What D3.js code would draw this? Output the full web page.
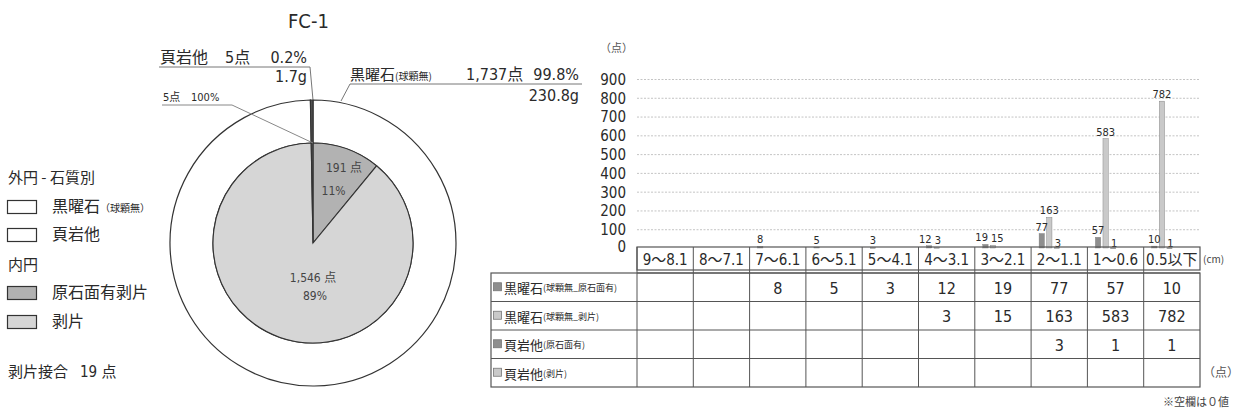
<!DOCTYPE html>
<html><head><meta charset="utf-8">
<script src="https://cdn.jsdelivr.net/npm/d3@7"></script>
<style>body{margin:0;background:#fff}svg{display:block}</style>
</head><body><svg id="c" width="1239" height="414"></svg>
<script>
// ---- data ----
const categories = ["9～8.1","8～7.1","7～6.1","6～5.1","5～4.1","4～3.1","3～2.1","2～1.1","1～0.6","0.5以下"];
const obsCortex   = [0,0,8,5,3,12,19,77,57,10];
const obsFlake    = [0,0,0,0,0,3,15,163,583,782];
const shaleCortex = [0,0,0,0,0,0,0,3,1,1];
const shaleFlake  = [0,0,0,0,0,0,0,0,0,0];
const yTicks = [0,100,200,300,400,500,600,700,800,900];
const rowNames = [["黒曜石","(球顆無_原石面有)"],["黒曜石","(球顆無_剥片)"],["頁岩他","(原石面有)"],["頁岩他","(剥片)"]];
const outerNames = ["黒曜石","頁岩他"];
const outerCounts = [1737, 5];
const outerPct = ["99.8%","0.2%"];
const outerWeights = ["230.8g","1.7g"];
const innerCounts = [191, 1546, 5];
const innerPct = ["11%","89%","100%"];
const refits = 19;

// ---- setup ----
const svg = d3.select("#c");
svg.append("rect").attr("width",1239).attr("height",414).attr("fill","#fff");
const JP = "'Noto Sans CJK JP', sans-serif";
const NUM = "'DejaVu Sans Condensed','Liberation Sans','Noto Sans CJK JP', sans-serif";
const INK = "#2a2a2a";
const LIGHT = "#d6d6d6";
const fmt = d3.format(",");
function num(sel){ return sel.attr("font-family",NUM).attr("font-stretch","condensed"); }

// title
num(svg.append("text").attr("x",288).attr("y",28)).attr("font-size",20).attr("fill",INK).text("FC-1");

// ---- pie ----
const cx = 313, cy = 243, rO = 143, rI = 100;
const pie = d3.pie().sort(null).value(d=>d);
const gp = svg.append("g").attr("transform",`translate(${cx},${cy})`);
const arcO = d3.arc().innerRadius(rI).outerRadius(rO);
gp.selectAll("path.o").data(pie(outerCounts)).join("path").attr("class","o")
  .attr("d",arcO).attr("fill",(d,i)=>i===0?"#fff":"#555").attr("stroke","#333").attr("stroke-width",1.2);
const arcI = d3.arc().innerRadius(0).outerRadius(rI);
const innerArcs = pie(innerCounts);
gp.selectAll("path.i").data(innerArcs).join("path").attr("class","i")
  .attr("d",arcI).attr("fill",(d,i)=>i===1?LIGHT:(i===0?"#b2b2b2":"#555")).attr("stroke","#333").attr("stroke-width",1.1);
// inner labels
const a0 = innerArcs[0];
const arcL1 = d3.arc().innerRadius(80).outerRadius(80);
const arcL2 = d3.arc().innerRadius(55).outerRadius(55);
let p = arcL1.centroid(a0);
num(gp.append("text").attr("x",p[0]+4).attr("y",p[1]).attr("text-anchor","middle").attr("dominant-baseline","central"))
  .attr("font-size",12).attr("fill","#444").text(`${innerCounts[0]} 点`);
p = arcL2.centroid(a0);
num(gp.append("text").attr("x",p[0]+2).attr("y",p[1]).attr("text-anchor","middle").attr("dominant-baseline","central"))
  .attr("font-size",12).attr("fill","#444").text(innerPct[0]);
num(gp.append("text").attr("x",0).attr("y",35).attr("text-anchor","middle").attr("dominant-baseline","central"))
  .attr("font-size",12).attr("fill","#444").text(`${fmt(innerCounts[1])} 点`);
num(gp.append("text").attr("x",2).attr("y",53).attr("text-anchor","middle").attr("dominant-baseline","central"))
  .attr("font-size",12).attr("fill","#444").text(innerPct[1]);

// outer labels (shale)
const lbl = svg.append("g").attr("fill",INK);
lbl.append("text").attr("x",160).attr("y",63).attr("font-family",JP).attr("font-size",16).text(outerNames[1]);
num(lbl.append("text").attr("x",225).attr("y",63)).attr("font-size",16).text(`${outerCounts[1]}点`);
num(lbl.append("text").attr("x",307).attr("y",63).attr("text-anchor","end")).attr("font-size",16).text(outerPct[1]);
num(lbl.append("text").attr("x",307).attr("y",82).attr("text-anchor","end")).attr("font-size",16).text(outerWeights[1]);
svg.append("polyline").attr("points","159,67 310,67 313,100").attr("fill","none").attr("stroke","#777").attr("stroke-width",1);
// inner shale label
num(lbl.append("text").attr("x",163).attr("y",101)).attr("font-size",11).text(`${innerCounts[2]}点`);
num(lbl.append("text").attr("x",191).attr("y",101)).attr("font-size",11).text(innerPct[2]);
svg.append("polyline").attr("points","162,105 232,105 313,143").attr("fill","none").attr("stroke","#888").attr("stroke-width",1);
// obsidian label
const ot = lbl.append("text").attr("x",350).attr("y",80).attr("font-family",JP).attr("font-size",15);
ot.append("tspan").text(outerNames[0]);
ot.append("tspan").attr("font-size",10).text("(球顆無)");
num(lbl.append("text").attr("x",466).attr("y",80)).attr("font-size",16).text(`${fmt(outerCounts[0])}点`);
num(lbl.append("text").attr("x",579).attr("y",80).attr("text-anchor","end")).attr("font-size",16).text(outerPct[0]);
num(lbl.append("text").attr("x",579).attr("y",101).attr("text-anchor","end")).attr("font-size",16).text(outerWeights[0]);
svg.append("polyline").attr("points","341,101 350,84 582,84").attr("fill","none").attr("stroke","#777").attr("stroke-width",1);

// legend
const lg = svg.append("g").attr("fill",INK).attr("font-family",JP);
lg.append("text").attr("x",8).attr("y",183).attr("font-size",15).text("外円 - 石質別");
const legItems = [
  {y:200, fill:"#fff", t:outerNames[0], s:"（球顆無）"},
  {y:228, fill:"#fff", t:outerNames[1], s:""},
  {y:286, fill:"#b2b2b2", t:"原石面有剥片", s:""},
  {y:315, fill:LIGHT, t:"剥片", s:""}
];
legItems.forEach(d=>{
  lg.append("rect").attr("x",7.5).attr("y",d.y+0.5).attr("width",29).attr("height",13).attr("fill",d.fill).attr("stroke","#333").attr("stroke-width",1.2);
  const t = lg.append("text").attr("x",52).attr("y",d.y+12).attr("font-size",16);
  t.append("tspan").text(d.t);
  if(d.s) t.append("tspan").attr("font-size",10).text(d.s);
});
lg.append("text").attr("x",8).attr("y",270).attr("font-size",15).text("内円");
const rf = lg.append("text").attr("x",8).attr("y",377).attr("font-size",15);
rf.append("tspan").text("剥片接合");
num(rf.append("tspan").attr("x",80)).attr("font-size",15).text(`${refits} `);
rf.append("tspan").attr("font-size",15).text("点");

// ---- bar chart ----
const x0 = d3.scaleBand().domain(categories).range([637,1200]);
const seriesKeys = ["oc","of","sc","sf"];
const seriesVals = {oc:obsCortex, of:obsFlake, sc:shaleCortex, sf:shaleFlake};
const seriesFill = {oc:"#8e8e8e", of:"#c9c9c9", sc:"#8e8e8e", sf:"#c9c9c9"};
const x1 = d3.scaleBand().domain(seriesKeys).range([8,36]).paddingInner(0.3);
const y = d3.scaleLinear().domain([0,900]).range([248,79]);

// gridlines
svg.append("g").selectAll("line").data(yTicks.filter(v=>v>0)).join("line")
  .attr("x1",637).attr("x2",1200).attr("y1",d=>y(d)+0.5).attr("y2",d=>y(d)+0.5)
  .attr("stroke","#c4c4c4").attr("stroke-width",1).attr("stroke-dasharray","2,1.5");

// y axis
const ax = svg.append("g").attr("transform","translate(626,0)")
  .call(d3.axisLeft(y).tickValues(yTicks).tickSize(0).tickPadding(0));
ax.select(".domain").remove();
num(ax.selectAll("text")).attr("font-size",15).attr("fill",INK)
  .attr("dy",(d)=>d===0?"0.2em":"0.36em");
svg.append("text").attr("x",600).attr("y",52).attr("font-family",JP).attr("font-size",11).attr("fill","#555").text("（点）");

// bars
const bg = svg.append("g");
const flat = [];
categories.forEach((c,i)=>seriesKeys.forEach(k=>flat.push({c, i, k, v:seriesVals[k][i]})));
const nz = flat.filter(d=>d.v>0);
bg.selectAll("rect").data(nz).join("rect")
  .attr("x",d=>x0(d.c)+x1(d.k)).attr("width",x1.bandwidth())
  .attr("y",d=>y(d.v)).attr("height",d=>Math.max(0.8,y(0)-y(d.v)))
  .attr("fill",d=>seriesFill[d.k]).attr("stroke","#777").attr("stroke-width",0.4);
// labels: push apart neighbours of similar height
function crowded(d){
  if(d.k!=="oc" && d.k!=="of") return false;
  const o = d.k==="oc" ? obsFlake[d.i] : obsCortex[d.i];
  return o>0 && Math.abs(y(o)-y(d.v))<12;
}
num(bg.selectAll("text").data(nz).join("text")
  .attr("x",d=>{
    const c = x0(d.c)+x1(d.k)+x1.bandwidth()/2;
    if(crowded(d)) return d.k==="oc" ? c+2.5 : c-2;
    return c+(d.k==="sc"?1:0);
  })
  .attr("y",d=>d.k==="sc"?y(0)-1:y(d.v)-3)
  .attr("text-anchor",d=>crowded(d)?(d.k==="oc"?"end":"start"):"middle"))
  .attr("font-size",11).attr("fill",INK)
  .text(d=>d.v);

// ---- table ----
const tg = svg.append("g").attr("stroke","#555").attr("fill","none");
const tTop = 247, hBot = 270, rTop = 273, rH = 28.5, nRows = 4;
const tBot = rTop + rH*nRows;
tg.append("rect").attr("x",637).attr("y",tTop).attr("width",563).attr("height",hBot-tTop).attr("stroke-width",1.2);
tg.append("line").attr("x1",637).attr("x2",1200).attr("y1",rTop).attr("y2",rTop);
tg.append("rect").attr("x",491).attr("y",rTop).attr("width",1200-491).attr("height",tBot-rTop).attr("stroke-width",1.2);
d3.range(1,nRows).forEach(r=>tg.append("line").attr("x1",491).attr("x2",1200).attr("y1",rTop+r*rH).attr("y2",rTop+r*rH));
categories.forEach(c=>{
  tg.append("line").attr("x1",x0(c)).attr("x2",x0(c)).attr("y1",tTop).attr("y2",tBot);
});
num(svg.append("g").selectAll("text").data(categories).join("text")
  .attr("x",d=>x0(d)+x0.bandwidth()/2).attr("y",(tTop+hBot)/2+1)
  .attr("text-anchor","middle").attr("dominant-baseline","central"))
  .attr("font-size",15).attr("fill",INK).text(d=>d);
svg.append("text").attr("x",1203).attr("y",263).attr("font-family",JP).attr("font-size",10).attr("fill","#444").text("(cm)");
rowNames.forEach((rn,r)=>{
  const yc = rTop + r*rH + rH/2;
  svg.append("rect").attr("x",493.5).attr("y",yc-4.5).attr("width",8).attr("height",8)
    .attr("fill",seriesFill[seriesKeys[r]]).attr("stroke","#777").attr("stroke-width",0.8);
  const t = svg.append("text").attr("x",504).attr("y",yc).attr("dominant-baseline","central")
    .attr("font-family",JP).attr("fill",INK);
  t.append("tspan").attr("font-size",13).text(rn[0]);
  t.append("tspan").attr("font-size",9).text(rn[1]);
  num(svg.append("g").selectAll("text").data(categories.map((c,i)=>({c,v:seriesVals[seriesKeys[r]][i]})).filter(d=>d.v>0))
    .join("text").attr("x",d=>x0(d.c)+x0.bandwidth()/2).attr("y",yc+1)
    .attr("text-anchor","middle").attr("dominant-baseline","central"))
    .attr("font-size",16).attr("fill",INK).text(d=>d.v);
});
svg.append("text").attr("x",1203).attr("y",377).attr("font-family",JP).attr("font-size",12).attr("fill","#555").text("（点）");
svg.append("text").attr("x",1229).attr("y",406).attr("text-anchor","end").attr("font-family",JP).attr("font-size",11).attr("fill","#444").text("※空欄は０値");
</script></body></html>
